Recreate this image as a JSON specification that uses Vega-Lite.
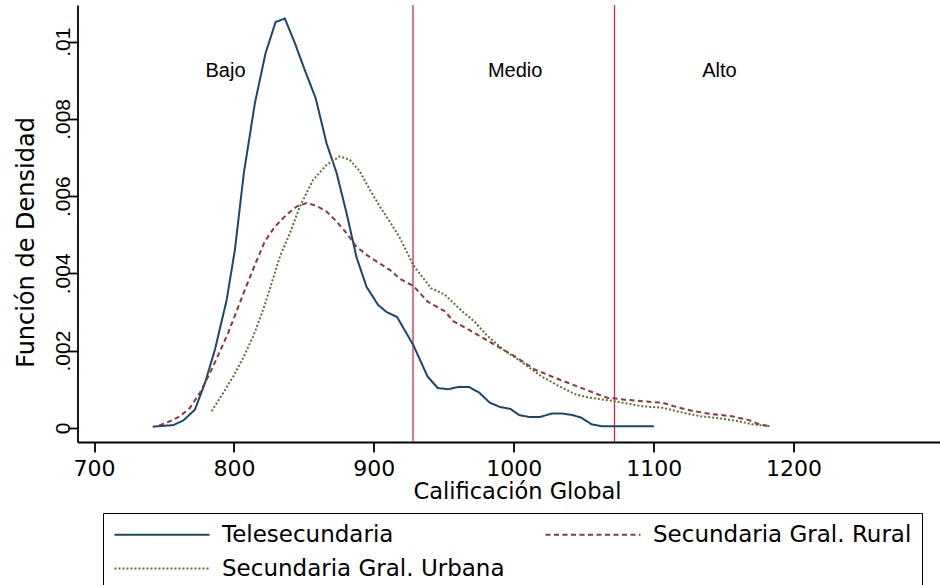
{
  "$schema": "https://vega.github.io/schema/vega-lite/v6.json",
  "width": 862,
  "height": 437,
  "autosize": "none",
  "padding": {"left": 77.5, "top": 5, "right": 0, "bottom": 143},
  "background": "white",
  "config": {
    "view": {"stroke": null},
    "axis": {"domainColor": "black", "domainWidth": 1.8, "tickColor": "black", "tickWidth": 1.8, "tickSize": 10, "grid": false, "labelColor": "black", "titleColor": "black", "titleFontWeight": "normal"},
    "legend": {"symbolType": "M-2,0H17", "symbolSize": 100, "symbolStrokeWidth": 2, "labelFont": "DejaVu Sans", "labelFontSize": 23, "labelColor": "black", "labelOffset": 86, "labelLimit": 600, "padding": 10, "strokeColor": "black", "fillColor": "white", "rowPadding": 10, "columnPadding": 36}
  },
  "datasets": {
    "cortes": [{"x": 928}, {"x": 1072}],
    "niveles": [
      {"x": 794, "y": 0.00909, "t": "Bajo"},
      {"x": 1001, "y": 0.00909, "t": "Medio"},
      {"x": 1147, "y": 0.00909, "t": "Alto"}
    ],
    "curvas": [
      {"s": "Telesecundaria", "x": 741.9, "y": 0.00003},
      {"s": "Telesecundaria", "x": 756.6, "y": 0.00007},
      {"s": "Telesecundaria", "x": 763.8, "y": 0.00019},
      {"s": "Telesecundaria", "x": 772.1, "y": 0.00047},
      {"s": "Telesecundaria", "x": 779.3, "y": 0.00116},
      {"s": "Telesecundaria", "x": 786.4, "y": 0.00202},
      {"s": "Telesecundaria", "x": 794.8, "y": 0.00331},
      {"s": "Telesecundaria", "x": 800.7, "y": 0.00461},
      {"s": "Telesecundaria", "x": 807.1, "y": 0.0066},
      {"s": "Telesecundaria", "x": 815.0, "y": 0.00841},
      {"s": "Telesecundaria", "x": 822.6, "y": 0.0097},
      {"s": "Telesecundaria", "x": 829.8, "y": 0.01051},
      {"s": "Telesecundaria", "x": 836.4, "y": 0.0106},
      {"s": "Telesecundaria", "x": 843.6, "y": 0.00996},
      {"s": "Telesecundaria", "x": 850.7, "y": 0.00926},
      {"s": "Telesecundaria", "x": 858.4, "y": 0.00854},
      {"s": "Telesecundaria", "x": 866.2, "y": 0.00737},
      {"s": "Telesecundaria", "x": 873.4, "y": 0.0066},
      {"s": "Telesecundaria", "x": 880.5, "y": 0.00556},
      {"s": "Telesecundaria", "x": 887.6, "y": 0.00442},
      {"s": "Telesecundaria", "x": 894.8, "y": 0.00365},
      {"s": "Telesecundaria", "x": 903.1, "y": 0.00318},
      {"s": "Telesecundaria", "x": 909.1, "y": 0.003},
      {"s": "Telesecundaria", "x": 916.6, "y": 0.00287},
      {"s": "Telesecundaria", "x": 928.1, "y": 0.00215},
      {"s": "Telesecundaria", "x": 938.4, "y": 0.00133},
      {"s": "Telesecundaria", "x": 945.7, "y": 0.00103},
      {"s": "Telesecundaria", "x": 953.1, "y": 0.001},
      {"s": "Telesecundaria", "x": 960.6, "y": 0.00106},
      {"s": "Telesecundaria", "x": 968.0, "y": 0.00106},
      {"s": "Telesecundaria", "x": 975.4, "y": 0.00091},
      {"s": "Telesecundaria", "x": 982.9, "y": 0.00065},
      {"s": "Telesecundaria", "x": 990.2, "y": 0.00054},
      {"s": "Telesecundaria", "x": 997.6, "y": 0.00049},
      {"s": "Telesecundaria", "x": 1003.9, "y": 0.00033},
      {"s": "Telesecundaria", "x": 1011.3, "y": 0.00028},
      {"s": "Telesecundaria", "x": 1018.6, "y": 0.00028},
      {"s": "Telesecundaria", "x": 1027.3, "y": 0.00037},
      {"s": "Telesecundaria", "x": 1034.7, "y": 0.00037},
      {"s": "Telesecundaria", "x": 1042.1, "y": 0.00033},
      {"s": "Telesecundaria", "x": 1048.4, "y": 0.00026},
      {"s": "Telesecundaria", "x": 1055.7, "y": 0.00009},
      {"s": "Telesecundaria", "x": 1063.1, "y": 0.00004},
      {"s": "Telesecundaria", "x": 1100.2, "y": 0.00004},
      {"s": "Secundaria Gral. Rural", "x": 746.6, "y": 0.00006},
      {"s": "Secundaria Gral. Rural", "x": 754.3, "y": 0.00017},
      {"s": "Secundaria Gral. Rural", "x": 761.4, "y": 0.0003},
      {"s": "Secundaria Gral. Rural", "x": 768.6, "y": 0.00052},
      {"s": "Secundaria Gral. Rural", "x": 775.7, "y": 0.00091},
      {"s": "Secundaria Gral. Rural", "x": 782.9, "y": 0.00142},
      {"s": "Secundaria Gral. Rural", "x": 790.0, "y": 0.00198},
      {"s": "Secundaria Gral. Rural", "x": 795.9, "y": 0.00246},
      {"s": "Secundaria Gral. Rural", "x": 801.9, "y": 0.00302},
      {"s": "Secundaria Gral. Rural", "x": 807.9, "y": 0.00358},
      {"s": "Secundaria Gral. Rural", "x": 815.0, "y": 0.00422},
      {"s": "Secundaria Gral. Rural", "x": 822.1, "y": 0.00483},
      {"s": "Secundaria Gral. Rural", "x": 829.3, "y": 0.00521},
      {"s": "Secundaria Gral. Rural", "x": 837.6, "y": 0.00552},
      {"s": "Secundaria Gral. Rural", "x": 844.8, "y": 0.00573},
      {"s": "Secundaria Gral. Rural", "x": 851.9, "y": 0.00582},
      {"s": "Secundaria Gral. Rural", "x": 859.1, "y": 0.00575},
      {"s": "Secundaria Gral. Rural", "x": 866.2, "y": 0.0056},
      {"s": "Secundaria Gral. Rural", "x": 873.4, "y": 0.00534},
      {"s": "Secundaria Gral. Rural", "x": 880.5, "y": 0.00504},
      {"s": "Secundaria Gral. Rural", "x": 887.6, "y": 0.00469},
      {"s": "Secundaria Gral. Rural", "x": 894.8, "y": 0.00448},
      {"s": "Secundaria Gral. Rural", "x": 901.9, "y": 0.00431},
      {"s": "Secundaria Gral. Rural", "x": 911.4, "y": 0.00409},
      {"s": "Secundaria Gral. Rural", "x": 918.6, "y": 0.00386},
      {"s": "Secundaria Gral. Rural", "x": 928.4, "y": 0.00367},
      {"s": "Secundaria Gral. Rural", "x": 938.4, "y": 0.00327},
      {"s": "Secundaria Gral. Rural", "x": 950.7, "y": 0.00302},
      {"s": "Secundaria Gral. Rural", "x": 956.9, "y": 0.00276},
      {"s": "Secundaria Gral. Rural", "x": 968.0, "y": 0.00254},
      {"s": "Secundaria Gral. Rural", "x": 977.9, "y": 0.00233},
      {"s": "Secundaria Gral. Rural", "x": 990.2, "y": 0.00207},
      {"s": "Secundaria Gral. Rural", "x": 1002.6, "y": 0.00181},
      {"s": "Secundaria Gral. Rural", "x": 1015.0, "y": 0.00151},
      {"s": "Secundaria Gral. Rural", "x": 1029.8, "y": 0.00129},
      {"s": "Secundaria Gral. Rural", "x": 1042.1, "y": 0.00112},
      {"s": "Secundaria Gral. Rural", "x": 1057.0, "y": 0.00091},
      {"s": "Secundaria Gral. Rural", "x": 1066.9, "y": 0.00078},
      {"s": "Secundaria Gral. Rural", "x": 1079.2, "y": 0.00073},
      {"s": "Secundaria Gral. Rural", "x": 1091.6, "y": 0.00069},
      {"s": "Secundaria Gral. Rural", "x": 1106.4, "y": 0.00065},
      {"s": "Secundaria Gral. Rural", "x": 1116.3, "y": 0.00054},
      {"s": "Secundaria Gral. Rural", "x": 1128.6, "y": 0.00043},
      {"s": "Secundaria Gral. Rural", "x": 1141.0, "y": 0.00036},
      {"s": "Secundaria Gral. Rural", "x": 1155.9, "y": 0.0003},
      {"s": "Secundaria Gral. Rural", "x": 1168.2, "y": 0.0002},
      {"s": "Secundaria Gral. Rural", "x": 1175.6, "y": 0.00009},
      {"s": "Secundaria Gral. Rural", "x": 1183.0, "y": 0.00004},
      {"s": "Secundaria Gral. Urbana", "x": 784.1, "y": 0.00043},
      {"s": "Secundaria Gral. Urbana", "x": 792.4, "y": 0.00091},
      {"s": "Secundaria Gral. Urbana", "x": 799.5, "y": 0.00133},
      {"s": "Secundaria Gral. Urbana", "x": 806.6, "y": 0.00181},
      {"s": "Secundaria Gral. Urbana", "x": 813.8, "y": 0.00237},
      {"s": "Secundaria Gral. Urbana", "x": 820.9, "y": 0.00306},
      {"s": "Secundaria Gral. Urbana", "x": 826.9, "y": 0.00374},
      {"s": "Secundaria Gral. Urbana", "x": 832.9, "y": 0.00444},
      {"s": "Secundaria Gral. Urbana", "x": 840.0, "y": 0.00504},
      {"s": "Secundaria Gral. Urbana", "x": 847.1, "y": 0.00573},
      {"s": "Secundaria Gral. Urbana", "x": 856.6, "y": 0.00642},
      {"s": "Secundaria Gral. Urbana", "x": 866.2, "y": 0.00681},
      {"s": "Secundaria Gral. Urbana", "x": 875.7, "y": 0.00703},
      {"s": "Secundaria Gral. Urbana", "x": 882.9, "y": 0.00694},
      {"s": "Secundaria Gral. Urbana", "x": 890.0, "y": 0.00664},
      {"s": "Secundaria Gral. Urbana", "x": 897.1, "y": 0.00617},
      {"s": "Secundaria Gral. Urbana", "x": 904.3, "y": 0.00573},
      {"s": "Secundaria Gral. Urbana", "x": 911.4, "y": 0.00534},
      {"s": "Secundaria Gral. Urbana", "x": 918.6, "y": 0.00492},
      {"s": "Secundaria Gral. Urbana", "x": 928.4, "y": 0.0042},
      {"s": "Secundaria Gral. Urbana", "x": 940.8, "y": 0.00362},
      {"s": "Secundaria Gral. Urbana", "x": 950.7, "y": 0.00345},
      {"s": "Secundaria Gral. Urbana", "x": 963.1, "y": 0.00302},
      {"s": "Secundaria Gral. Urbana", "x": 971.7, "y": 0.00276},
      {"s": "Secundaria Gral. Urbana", "x": 980.4, "y": 0.00241},
      {"s": "Secundaria Gral. Urbana", "x": 992.7, "y": 0.00202},
      {"s": "Secundaria Gral. Urbana", "x": 1005.1, "y": 0.00172},
      {"s": "Secundaria Gral. Urbana", "x": 1019.9, "y": 0.00133},
      {"s": "Secundaria Gral. Urbana", "x": 1032.3, "y": 0.00108},
      {"s": "Secundaria Gral. Urbana", "x": 1044.6, "y": 0.00086},
      {"s": "Secundaria Gral. Urbana", "x": 1054.5, "y": 0.00078},
      {"s": "Secundaria Gral. Urbana", "x": 1071.8, "y": 0.00069},
      {"s": "Secundaria Gral. Urbana", "x": 1091.6, "y": 0.00056},
      {"s": "Secundaria Gral. Urbana", "x": 1106.4, "y": 0.00052},
      {"s": "Secundaria Gral. Urbana", "x": 1121.2, "y": 0.00039},
      {"s": "Secundaria Gral. Urbana", "x": 1133.6, "y": 0.0003},
      {"s": "Secundaria Gral. Urbana", "x": 1148.4, "y": 0.00024},
      {"s": "Secundaria Gral. Urbana", "x": 1160.8, "y": 0.00017},
      {"s": "Secundaria Gral. Urbana", "x": 1170.7, "y": 0.00009},
      {"s": "Secundaria Gral. Urbana", "x": 1183.0, "y": 0.00004}
    ]
  },
  "encoding": {
    "x": {
      "field": "x", "type": "quantitative",
      "scale": {"domain": [688.2, 1304.3], "nice": false, "zero": false},
      "axis": {"values": [700, 800, 900, 1000, 1100, 1200], "format": "d", "labelFont": "DejaVu Sans", "labelFontSize": 22, "labelBaseline": "alphabetic", "labelPadding": 23.5, "labelFlush": false, "labelOverlap": false, "title": "Calificación Global", "titleFont": "DejaVu Sans", "titleFontSize": 22.5, "titleX": 439.5, "titleY": 56.5, "titleAlign": "center", "titleBaseline": "alphabetic"}
    }
  },
  "layer": [
    {
      "data": {"name": "cortes"},
      "mark": {"type": "rule", "color": "#cc2a4d", "strokeWidth": 1.3}
    },
    {
      "data": {"name": "curvas"},
      "mark": {"type": "line", "strokeWidth": 2, "clip": true},
      "encoding": {
        "y": {
          "field": "y", "type": "quantitative",
          "scale": {"domain": [-0.000367, 0.01095], "nice": false, "zero": false},
          "axis": {"values": [0, 0.002, 0.004, 0.006, 0.008, 0.01], "labelExpr": "datum.value == 0 ? '0' : slice(format(datum.value, '.3~f'), 1)", "labelAngle": -90, "labelAlign": "center", "labelBaseline": "alphabetic", "labelPadding": -2, "labelFont": "Liberation Sans", "labelFontSize": 21, "labelOverlap": false, "title": "Función de Densidad", "titleFont": "DejaVu Sans", "titleFontSize": 24, "titleAngle": -90, "titleX": -44.5, "titleY": 237, "titleAlign": "center", "titleBaseline": "alphabetic"}
        },
        "color": {
          "field": "s", "type": "nominal",
          "scale": {"domain": ["Telesecundaria", "Secundaria Gral. Rural", "Secundaria Gral. Urbana"], "range": ["#1a476f", "#90353b", "#55752f"]},
          "legend": {"title": null, "orient": "none", "legendX": 25.5, "legendY": 508, "direction": "horizontal", "columns": 2}
        },
        "strokeDash": {
          "field": "s", "type": "nominal",
          "scale": {"domain": ["Telesecundaria", "Secundaria Gral. Rural", "Secundaria Gral. Urbana"], "range": [[1, 0], [5, 3.5], [2, 2]]},
          "legend": {"title": null, "orient": "none", "legendX": 25.5, "legendY": 508, "direction": "horizontal", "columns": 2}
        }
      }
    },
    {
      "data": {"name": "niveles"},
      "mark": {"type": "text", "font": "Liberation Sans", "fontSize": 20, "color": "black", "align": "center", "baseline": "alphabetic"},
      "encoding": {
        "y": {"field": "y", "type": "quantitative"},
        "text": {"field": "t"}
      }
    }
  ]
}
